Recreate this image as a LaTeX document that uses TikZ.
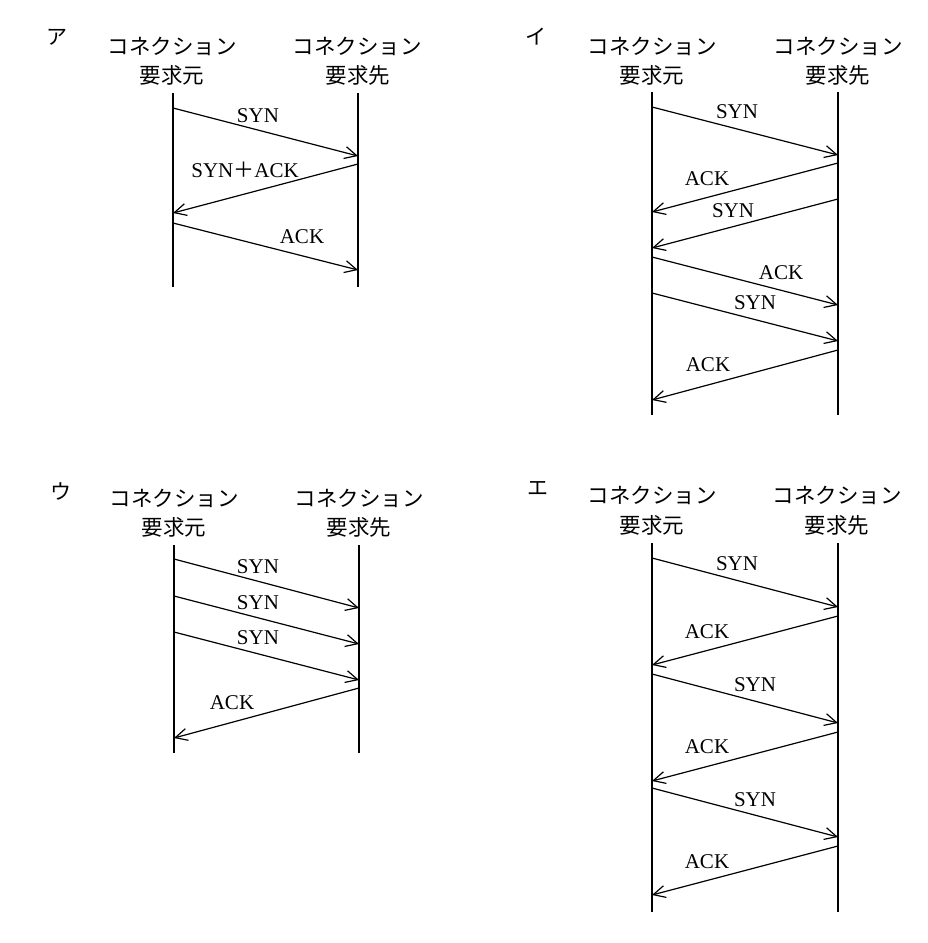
\documentclass[tikz,border=0pt]{standalone}
\usepackage{fontspec}
\setmainfont{Liberation Serif}
\newfontfamily\jp{Noto Sans CJK JP}
\usetikzlibrary{arrows.meta}
\begin{document}
\begin{tikzpicture}[x=1pt,y=-1pt,
  life/.style={line width=1.2pt},
  msg/.style={line width=1.2pt,-{Straight Barb[length=12pt,width=12pt,line width=1.2pt]}},
  lbl/.style={font=\fontsize{21}{21}\selectfont,inner sep=0pt},
  hdr/.style={font=\jp\fontsize{21.5}{21.5}\selectfont,inner sep=0pt},
  tag/.style={font=\jp\fontsize{21}{21}\selectfont,inner sep=0pt}]
\useasboundingbox (0,0) rectangle (927,943);
\fill[white] (0,0) rectangle (927,943);

% ===== Panel ア =====
\node[tag] (tA) at (57,37) {ア};
\node[hdr] (hA1) at (172,46) {コネクション};
\node[hdr] (hA2) at (172,75) {要求元};
\node[hdr] (hA3) at (357,46) {コネクション};
\node[hdr] (hA4) at (358,75) {要求先};
\coordinate (LAt) at (173,93);  \coordinate (LAb) at (173,287);
\coordinate (RAt) at (358,93);  \coordinate (RAb) at (358,287);
\draw[life] (LAt) -- (LAb);
\draw[life] (RAt) -- (RAb);
\coordinate (A1s) at (173,108); \coordinate (A1e) at (358,156);
\coordinate (A2s) at (358,164); \coordinate (A2e) at (173,213);
\coordinate (A3s) at (173,223); \coordinate (A3e) at (358,270);
\draw[msg] (A1s) -- (A1e);
\draw[msg] (A2s) -- (A2e);
\draw[msg] (A3s) -- (A3e);
\node[lbl] (lA1) at (258,116) {SYN};
\node[lbl] (lA2) at (245,170) {SYN{\jp ＋}ACK};
\node[lbl] (lA3) at (302,237) {ACK};

% ===== Panel イ =====
\node[tag] (tB) at (536,37) {イ};
\node[hdr] (hB1) at (652,46) {コネクション};
\node[hdr] (hB2) at (652,75) {要求元};
\node[hdr] (hB3) at (838,46) {コネクション};
\node[hdr] (hB4) at (838,75) {要求先};
\coordinate (LBt) at (652,92);  \coordinate (LBb) at (652,415);
\coordinate (RBt) at (838,92);  \coordinate (RBb) at (838,415);
\draw[life] (LBt) -- (LBb);
\draw[life] (RBt) -- (RBb);
\coordinate (B1s) at (652,107); \coordinate (B1e) at (838,155);
\coordinate (B2s) at (838,163); \coordinate (B2e) at (652,212);
\coordinate (B3s) at (838,199); \coordinate (B3e) at (652,248);
\coordinate (B4s) at (652,257); \coordinate (B4e) at (838,305);
\coordinate (B5s) at (652,293); \coordinate (B5e) at (838,341);
\coordinate (B6s) at (838,350); \coordinate (B6e) at (652,400);
\draw[msg] (B1s) -- (B1e);
\draw[msg] (B2s) -- (B2e);
\draw[msg] (B3s) -- (B3e);
\draw[msg] (B4s) -- (B4e);
\draw[msg] (B5s) -- (B5e);
\draw[msg] (B6s) -- (B6e);
\node[lbl] (lB1) at (737,112) {SYN};
\node[lbl] (lB2) at (707,179) {ACK};
\node[lbl] (lB3) at (733,211) {SYN};
\node[lbl] (lB4) at (781,273) {ACK};
\node[lbl] (lB5) at (755,303) {SYN};
\node[lbl] (lB6) at (708,365) {ACK};

% ===== Panel ウ =====
\node[tag] (tC) at (61,491) {ウ};
\node[hdr] (hC1) at (174,498) {コネクション};
\node[hdr] (hC2) at (174,527) {要求元};
\node[hdr] (hC3) at (359,498) {コネクション};
\node[hdr] (hC4) at (359,527) {要求先};
\coordinate (LCt) at (174,545); \coordinate (LCb) at (174,753);
\coordinate (RCt) at (359,545); \coordinate (RCb) at (359,753);
\draw[life] (LCt) -- (LCb);
\draw[life] (RCt) -- (RCb);
\coordinate (C1s) at (174,559); \coordinate (C1e) at (359,608);
\coordinate (C2s) at (174,596); \coordinate (C2e) at (359,644);
\coordinate (C3s) at (174,632); \coordinate (C3e) at (359,680);
\coordinate (C4s) at (359,688); \coordinate (C4e) at (174,738);
\draw[msg] (C1s) -- (C1e);
\draw[msg] (C2s) -- (C2e);
\draw[msg] (C3s) -- (C3e);
\draw[msg] (C4s) -- (C4e);
\node[lbl] (lC1) at (258,567) {SYN};
\node[lbl] (lC2) at (258,603) {SYN};
\node[lbl] (lC3) at (258,638) {SYN};
\node[lbl] (lC4) at (232,703) {ACK};

% ===== Panel エ =====
\node[tag] (tD) at (538,488) {エ};
\node[hdr] (hD1) at (652,495) {コネクション};
\node[hdr] (hD2) at (652,525) {要求元};
\node[hdr] (hD3) at (837,495) {コネクション};
\node[hdr] (hD4) at (837,525) {要求先};
\coordinate (LDt) at (652,543); \coordinate (LDb) at (652,912);
\coordinate (RDt) at (838,543); \coordinate (RDb) at (838,912);
\draw[life] (LDt) -- (LDb);
\draw[life] (RDt) -- (RDb);
\coordinate (D1s) at (652,558); \coordinate (D1e) at (838,607);
\coordinate (D2s) at (838,616); \coordinate (D2e) at (652,665);
\coordinate (D3s) at (652,674); \coordinate (D3e) at (838,723);
\coordinate (D4s) at (838,732); \coordinate (D4e) at (652,781);
\coordinate (D5s) at (652,788); \coordinate (D5e) at (838,837);
\coordinate (D6s) at (838,846); \coordinate (D6e) at (652,895);
\draw[msg] (D1s) -- (D1e);
\draw[msg] (D2s) -- (D2e);
\draw[msg] (D3s) -- (D3e);
\draw[msg] (D4s) -- (D4e);
\draw[msg] (D5s) -- (D5e);
\draw[msg] (D6s) -- (D6e);
\node[lbl] (lD1) at (737,564) {SYN};
\node[lbl] (lD2) at (707,632) {ACK};
\node[lbl] (lD3) at (755,685) {SYN};
\node[lbl] (lD4) at (707,747) {ACK};
\node[lbl] (lD5) at (755,800) {SYN};
\node[lbl] (lD6) at (707,862) {ACK};
\end{tikzpicture}
\end{document}
